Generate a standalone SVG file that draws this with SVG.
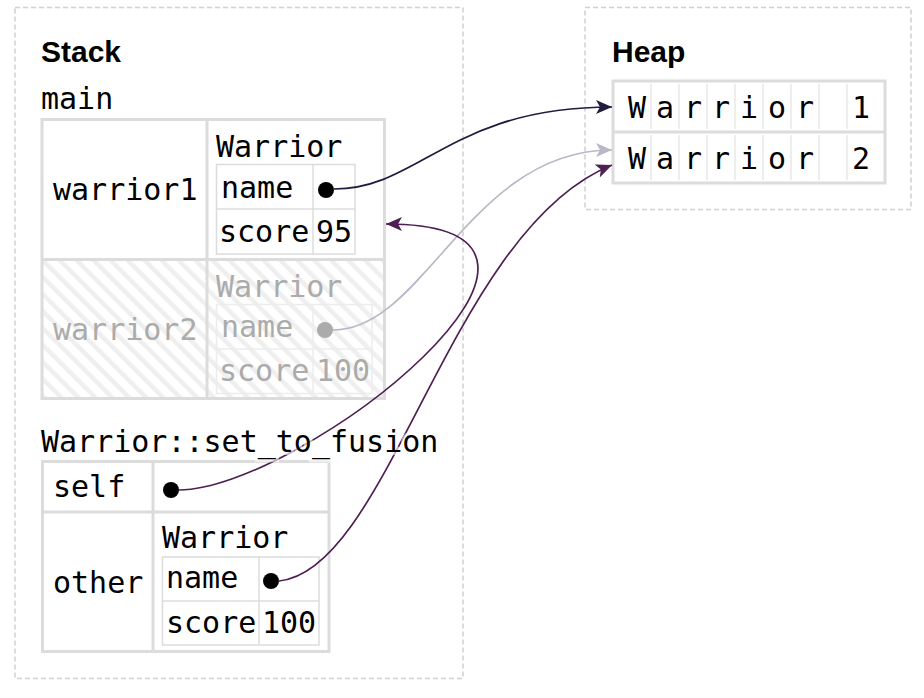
<svg xmlns="http://www.w3.org/2000/svg" width="924" height="698" viewBox="0 0 924 698">
<style>
.region{fill:none;stroke:#d0d0d0;stroke-width:1.5;stroke-dasharray:5 3}
.title{font-family:"Liberation Sans",Arial,sans-serif;font-weight:bold;font-size:30px;fill:#000}
.mono{font-family:"DejaVu Sans Mono","Liberation Mono",monospace;font-size:30px;fill:#000}
.outer{fill:none;stroke:#dcdcdc;stroke-width:3}
.inner{fill:none;stroke:#dcdcdc;stroke-width:1.5}
.faded .mono{fill:#ababab}
.faded .inner{stroke:#ececec}
.cell{stroke:#dcdcdc;stroke-width:1}
.dot{fill:#000}
.conn{fill:none;stroke-width:1.7}
.halo{stroke:#fff;stroke-width:6;stroke-opacity:0.6;paint-order:stroke}
</style>
<defs>
<pattern id="hatch" width="12" height="12" patternUnits="userSpaceOnUse" patternTransform="rotate(-45)">
<rect x="0" y="0" width="4.5" height="12" fill="#efefef"/>
</pattern>
<marker id="a-navy" markerUnits="userSpaceOnUse" markerWidth="17" markerHeight="14" refX="16" refY="7" orient="auto">
<path d="M0,0 L16,7 L0,14 L4,7 Z" fill="#221b3e"/>
</marker>
<marker id="a-purple" markerUnits="userSpaceOnUse" markerWidth="17" markerHeight="14" refX="16" refY="7" orient="auto">
<path d="M0,0 L16,7 L0,14 L4,7 Z" fill="#4e1f53"/>
</marker>
<marker id="a-light" markerUnits="userSpaceOnUse" markerWidth="17" markerHeight="14" refX="16" refY="7" orient="auto">
<path d="M0,0 L16,7 L0,14 L4,7 Z" fill="#bcb7c6"/>
</marker>
</defs>
<rect width="924" height="698" fill="#fff"/>

<g id="stack">
<rect class="region" x="15" y="7.5" width="448" height="671"/>
<text class="title" x="41" y="62">Stack</text>
</g>

<g id="heap">
<rect class="region" x="585" y="7.5" width="326" height="202"/>
<text class="title" x="612" y="62">Heap</text>
<rect class="outer" x="613" y="81" width="272" height="102"/>
<line class="outer" x1="613" y1="132" x2="885" y2="132"/>
<g class="cell">
<line x1="651" y1="84" x2="651" y2="129"/><line x1="679" y1="84" x2="679" y2="129"/><line x1="707" y1="84" x2="707" y2="129"/><line x1="735" y1="84" x2="735" y2="129"/><line x1="763" y1="84" x2="763" y2="129"/><line x1="791" y1="84" x2="791" y2="129"/><line x1="819" y1="84" x2="819" y2="129"/><line x1="847" y1="84" x2="847" y2="129"/>
<line x1="651" y1="135" x2="651" y2="180"/><line x1="679" y1="135" x2="679" y2="180"/><line x1="707" y1="135" x2="707" y2="180"/><line x1="735" y1="135" x2="735" y2="180"/><line x1="763" y1="135" x2="763" y2="180"/><line x1="791" y1="135" x2="791" y2="180"/><line x1="819" y1="135" x2="819" y2="180"/><line x1="847" y1="135" x2="847" y2="180"/>
</g>
<g class="mono" text-anchor="middle">
<text x="637" y="118">W</text><text x="665" y="118">a</text><text x="693" y="118">r</text><text x="721" y="118">r</text><text x="749" y="118">i</text><text x="777" y="118">o</text><text x="805" y="118">r</text><text x="861" y="118">1</text>
<text x="637" y="169">W</text><text x="665" y="169">a</text><text x="693" y="169">r</text><text x="721" y="169">r</text><text x="749" y="169">i</text><text x="777" y="169">o</text><text x="805" y="169">r</text><text x="861" y="169">2</text>
</g>
</g>

<g id="main">
<text class="mono" x="41" y="109">main</text>
<rect x="42" y="259" width="342.5" height="139.5" fill="url(#hatch)"/>
<rect class="outer" x="42" y="119.5" width="342.5" height="279"/>
<line class="outer" x1="42" y1="259.5" x2="384.5" y2="259.5"/>
<line class="outer" x1="207" y1="119.5" x2="207" y2="398.5"/>
<g id="warrior1">
<text class="mono" x="53" y="200">warrior1</text>
<text class="mono" x="216" y="157">Warrior</text>
<rect class="inner" x="216.5" y="164.5" width="138.5" height="89.5"/>
<line class="inner" x1="216.5" y1="209" x2="355" y2="209"/>
<line class="inner" x1="313" y1="164.5" x2="313" y2="254"/>
<text class="mono" x="221" y="198">name</text>
<circle class="dot" cx="326" cy="190" r="8"/>
<text class="mono" x="219" y="242">score</text>
<text class="mono" x="316" y="242">95</text>
</g>
<g id="warrior2" class="faded">
<text class="mono" x="53" y="340">warrior2</text>
<text class="mono" x="216" y="297">Warrior</text>
<rect class="inner" x="216.5" y="304.5" width="155.5" height="89"/>
<line class="inner" x1="216.5" y1="349" x2="372" y2="349"/>
<line class="inner" x1="313" y1="304.5" x2="313" y2="393.5"/>
<text class="mono" x="221" y="337">name</text>
<circle cx="325" cy="330" r="8" fill="#ababab"/>
<text class="mono" x="219" y="381">score</text>
<text class="mono" x="316" y="381">100</text>
</g>
</g>

<g id="set_to_fusion">
<rect class="outer" x="42.5" y="461.5" width="286.5" height="190"/>
<line class="outer" x1="42.5" y1="512" x2="329" y2="512"/>
<line class="outer" x1="153" y1="461.5" x2="153" y2="651.5"/>
<g id="self">
<text class="mono" x="53" y="497">self</text>
<circle class="dot" cx="171" cy="490" r="8"/>
</g>
<g id="other">
<text class="mono" x="53" y="593">other</text>
<text class="mono" x="162" y="548">Warrior</text>
<rect class="inner" x="162.5" y="557" width="156.5" height="88"/>
<line class="inner" x1="162.5" y1="601" x2="319" y2="601"/>
<line class="inner" x1="259" y1="557" x2="259" y2="645"/>
<text class="mono" x="166" y="588">name</text>
<circle class="dot" cx="271" cy="581" r="8"/>
<text class="mono" x="166" y="633">score</text>
<text class="mono" x="262" y="633">100</text>
</g>
</g>

<g id="connectors">
<path class="conn" stroke="#bcb7c6" marker-end="url(#a-light)" d="M333,330 C425,330 470,150 612,150"/>
<path class="conn" stroke="#221b3e" marker-end="url(#a-navy)" d="M334,189 C420,189 450,107 612,107"/>
<path class="conn" stroke="#4e1f53" marker-end="url(#a-purple)" d="M179,490 C300,490 640,224 386,224"/>
<path class="conn" stroke="#4e1f53" marker-end="url(#a-purple)" d="M279,581 C390,570 450,230 612,165"/>
</g>

<g id="frame-label">
<text class="mono halo" x="41" y="452">Warrior::set_to_fusion</text>
</g>
</svg>
